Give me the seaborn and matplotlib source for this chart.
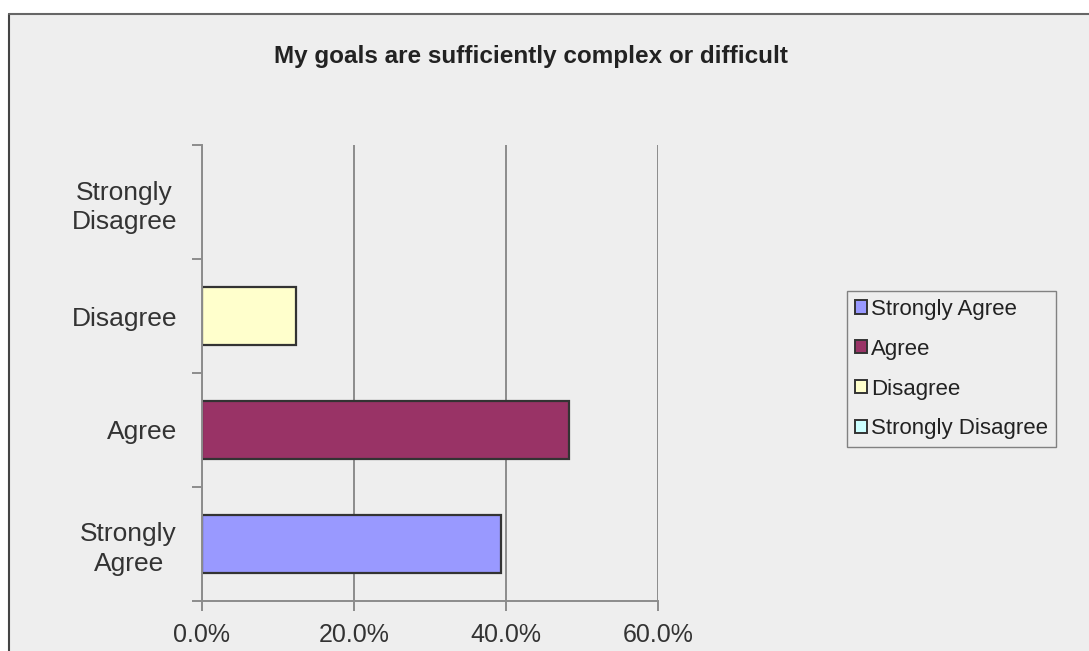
import matplotlib.pyplot as plt
import matplotlib.ticker as mticker
from matplotlib.patches import Patch, Rectangle
from matplotlib.lines import Line2D
import pandas as pd
import seaborn as sns

# Survey answers (share of respondents)
categories = ['Strongly Agree', 'Agree', 'Disagree', 'Strongly Disagree']
shares = [0.393, 0.483, 0.124, 0.0]
colors = ['#9999FF', '#993366', '#FFFFCC', '#CCFFFF']
axis_order = ['Strongly Disagree', 'Disagree', 'Agree', 'Strongly Agree']
axis_labels = ['Strongly\nDisagree', 'Disagree', 'Agree', 'Strongly\nAgree']
x_ticks = [0.0, 0.2, 0.4, 0.6]
title = 'My goals are sufficiently complex or difficult'

df = pd.DataFrame({'answer': categories, 'share': shares})
palette = dict(zip(categories, colors))

sns.set_style('white')
plt.rcParams['font.family'] = ['Liberation Sans', 'DejaVu Sans']

W, H = 1089, 651
fig = plt.figure(figsize=(W / 100, H / 100), dpi=100, facecolor='white')

# Chart area background and frame (left + top edges visible)
fig.patches.append(Rectangle((9 / W, 0), 1, 1 - 14 / H, transform=fig.transFigure,
                             facecolor='#EEEEEE', edgecolor='none', zorder=-1))
fig.lines.append(Line2D([9 / W, 9 / W], [0, 1 - 14 / H], transform=fig.transFigure,
                        color='#444444', lw=1.5))
fig.lines.append(Line2D([9 / W, 1], [1 - 14 / H, 1 - 14 / H], transform=fig.transFigure,
                        color='#666666', lw=1.5))

ax = fig.add_axes([202 / W, 1 - 601 / H, (658 - 202) / W, (601 - 145) / H])
ax.set_facecolor('#EEEEEE')

sns.barplot(data=df, x='share', y='answer', hue='answer', palette=palette,
            order=axis_order, hue_order=categories, orient='h', dodge=False,
            width=0.51, saturation=1, edgecolor='#333333', linewidth=1.6,
            legend=False, ax=ax)

# empty bars get no outline
for bar in ax.patches:
    if bar.get_width() == 0:
        bar.set_linewidth(0)

ax.set_xlim(0, 0.6)
ax.set_ylim(3.5, -0.5)
ax.set_xticks(x_ticks)
ax.xaxis.set_major_formatter(mticker.PercentFormatter(1.0, decimals=1))
ax.grid(axis='x', color='#8C8C8C', lw=1.4)
ax.set_axisbelow(True)

# Category labels at centres, tick marks at category boundaries
ax.set_yticks(range(len(axis_order)))
ax.set_yticklabels(axis_labels, multialignment='center', linespacing=1.3)
ax.set_yticks([-0.5, 0.5, 1.5, 2.5, 3.5], minor=True)
ax.tick_params(axis='y', which='major', length=0, pad=18, labelsize=19, labelcolor='#333333')
ax.tick_params(axis='y', which='minor', length=7, width=1.4, color='#8C8C8C', left=True)
ax.tick_params(axis='x', length=7, width=1.4, color='#8C8C8C', bottom=True,
               labelsize=18, labelcolor='#333333', pad=9)

for side in ['top', 'right']:
    ax.spines[side].set_visible(False)
for side in ['left', 'bottom']:
    ax.spines[side].set_color('#8C8C8C')
    ax.spines[side].set_linewidth(1.4)

ax.set_xlabel('')
ax.set_ylabel('')

fig.text(531 / W, 1 - 57 / H, title, ha='center', va='center',
         fontsize=17.5, fontweight='bold', color='#222222')

handles = [Patch(facecolor=c, edgecolor='#333333', linewidth=1.4, label=lab)
           for lab, c in zip(categories, colors)]
leg = fig.legend(handles=handles, loc='upper left',
                 bbox_to_anchor=(847 / W, 1 - 291 / H), frameon=True,
                 fontsize=16, handlelength=0.55, handleheight=0.55, handletextpad=0.2,
                 labelspacing=0.85, borderpad=0.35, borderaxespad=0, fancybox=False)
leg.get_frame().set_facecolor('#EEEEEE')
leg.get_frame().set_edgecolor('#666666')
leg.get_frame().set_linewidth(1.0)
for t in leg.get_texts():
    t.set_color('#222222')

fig.savefig('out.png', dpi=100, facecolor='white')
